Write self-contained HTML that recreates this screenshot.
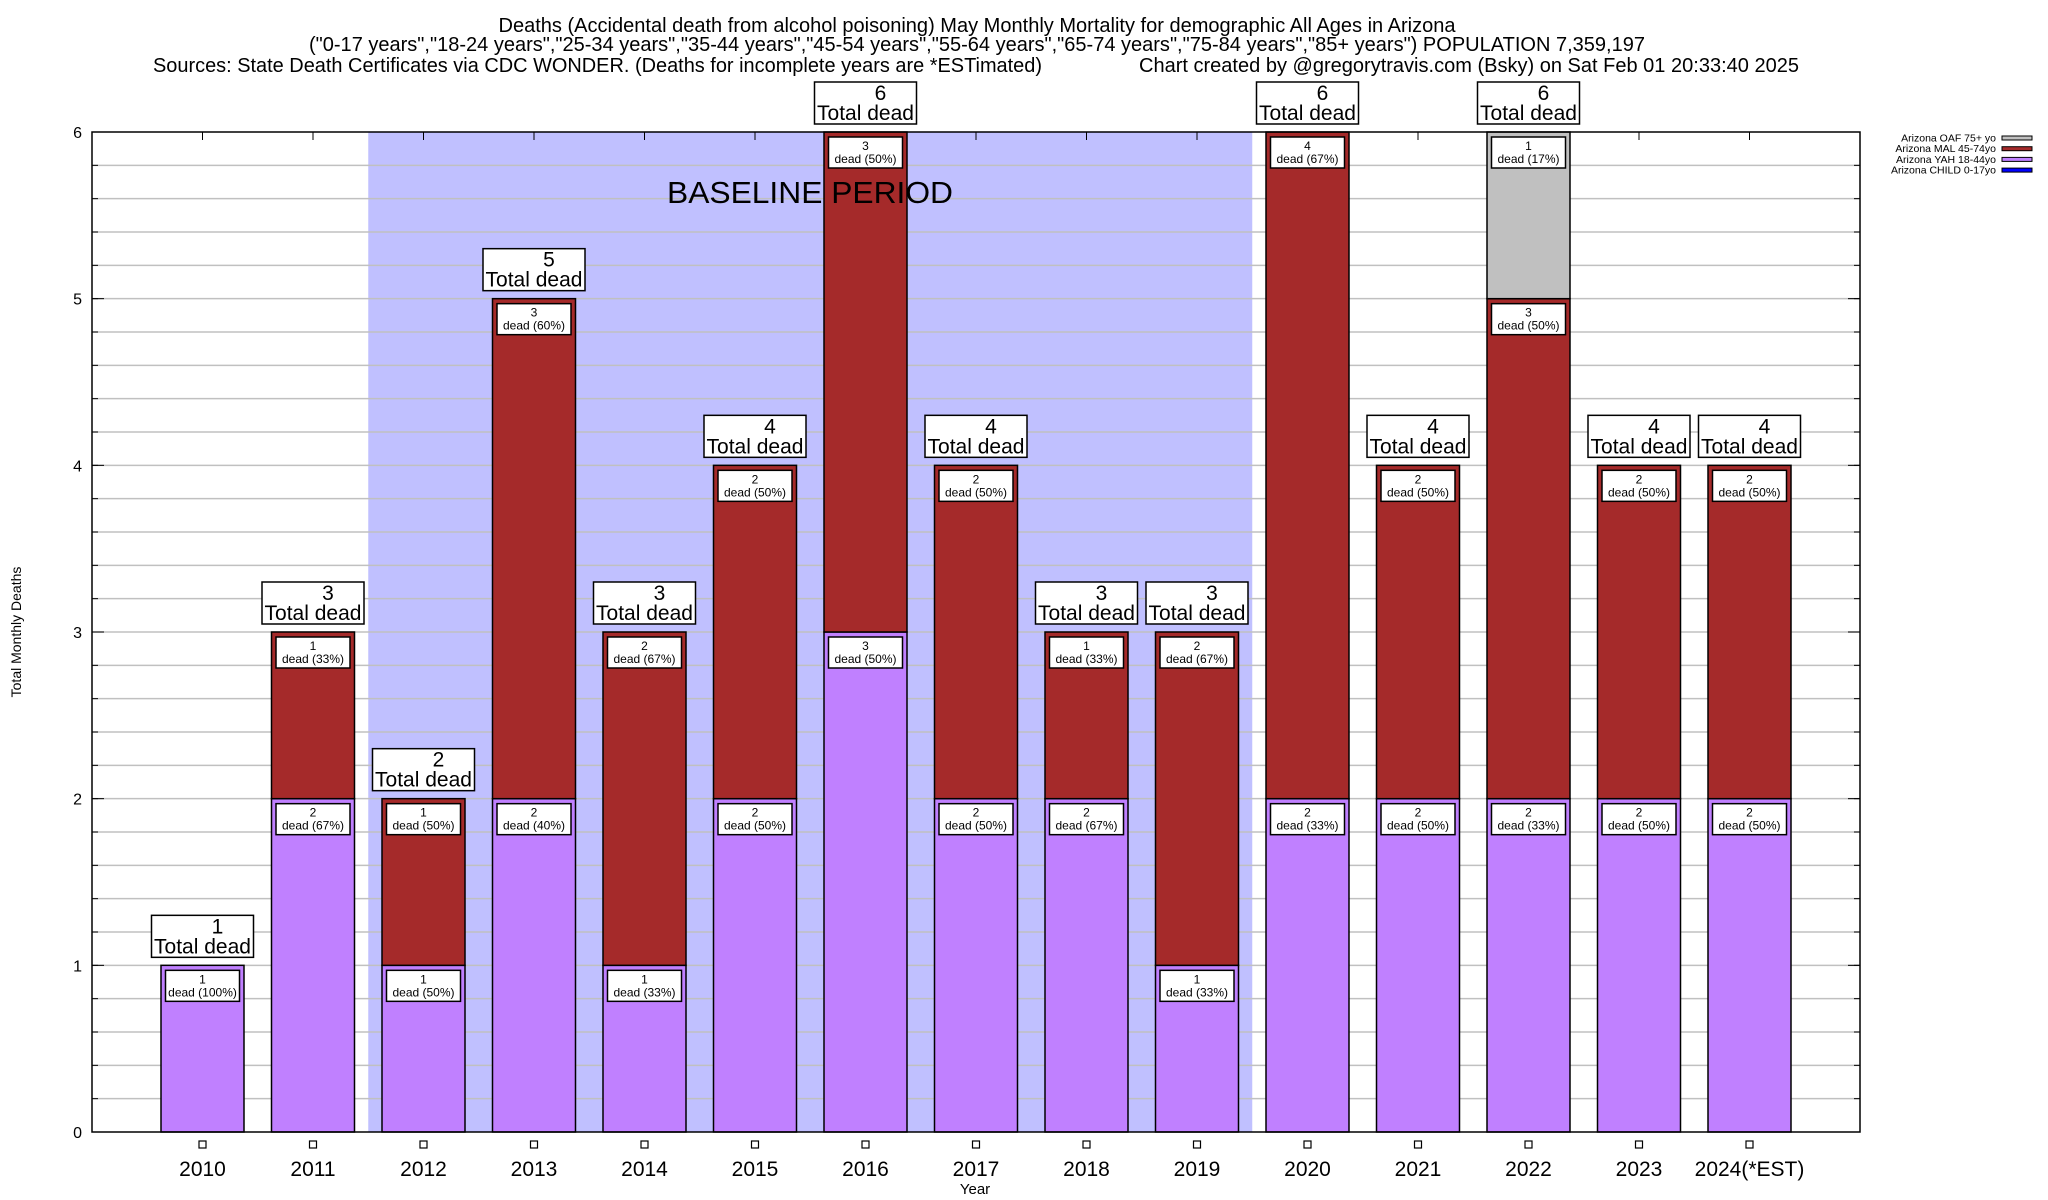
<!DOCTYPE html>
<html><head><meta charset="utf-8"><style>
body{margin:0;background:#fff;}
svg{display:block;font-family:"Liberation Sans",sans-serif;}
</style></head><body>
<svg id="chart" width="2048" height="1200" viewBox="0 0 2048 1200" xmlns="http://www.w3.org/2000/svg">
<g font-size="20" fill="#000">
<text x="977" y="32" text-anchor="middle" textLength="957" lengthAdjust="spacingAndGlyphs">Deaths (Accidental death from alcohol poisoning) May Monthly Mortality for demographic All Ages in Arizona</text>
<text x="977" y="51" text-anchor="middle" textLength="1336" lengthAdjust="spacingAndGlyphs">("0-17 years","18-24 years","25-34 years","35-44 years","45-54 years","55-64 years","65-74 years","75-84 years","85+ years") POPULATION 7,359,197</text>
<text x="153" y="72" textLength="889" lengthAdjust="spacingAndGlyphs">Sources: State Death Certificates via CDC WONDER. (Deaths for incomplete years are *ESTimated)</text>
<text x="1139" y="72" textLength="660" lengthAdjust="spacingAndGlyphs">Chart created by @gregorytravis.com (Bsky) on Sat Feb 01 20:33:40 2025</text>
</g>
<g id="plot"></g>
</svg>
<script>
const years = ['2010','2011','2012','2013','2014','2015','2016','2017','2018','2019','2020','2021','2022','2023','2024(*EST)'];
const yah = [1,2,1,2,1,2,3,2,2,1,2,2,2,2,2];
const mal = [0,1,1,3,2,2,3,2,1,2,4,2,3,2,2];
const oaf = [0,0,0,0,0,0,0,0,0,0,0,0,1,0,0];
const child = [0,0,0,0,0,0,0,0,0,0,0,0,0,0,0];
const yTicks = [0,1,2,3,4,5,6];
const baseline = [2011.5, 2019.5];

const L=92,R=1860,T=132,B=1132;
const xMin=2009,xMax=2025,yMax=6;
const X=v=>L+(v-xMin)/(xMax-xMin)*(R-L);
const Y=v=>B-v/yMax*(B-T);
const NS='http://www.w3.org/2000/svg';
const g=document.getElementById('plot');
function mk(tag,attrs,parent){const e=document.createElementNS(NS,tag);for(const k in attrs)e.setAttribute(k,attrs[k]);(parent||g).appendChild(e);return e;}

const sh=mk('rect',{x:X(baseline[0]),y:T,width:X(baseline[1])-X(baseline[0]),height:B-T,fill:'#c0c0ff'});


for(let v=0.2;v<yMax-0.01;v+=0.2){
  const gl=mk('line',{x1:L,x2:R,y1:Y(v),y2:Y(v),stroke:'#c0c0c0','stroke-width':1.5});
  
  
  const t1=mk('line',{x1:L,x2:L+6,y1:Y(v),y2:Y(v),stroke:'#000'});
  
  
  const t2=mk('line',{x1:R-6,x2:R,y1:Y(v),y2:Y(v),stroke:'#000'});
  
  
}

yTicks.forEach(v=>{
  const t=mk('text',{x:L-10,y:Y(v)+6,'font-size':16,'text-anchor':'end'});
  t.textContent=v;
  
  
  const tk=mk('line',{x1:L,x2:L+12,y1:Y(v),y2:Y(v),stroke:'#000'});
  
  
  const tk2=mk('line',{x1:R-12,x2:R,y1:Y(v),y2:Y(v),stroke:'#000'});
  
  
});
const yt=mk('text',{x:0,y:0,'font-size':14,'text-anchor':'middle',transform:'translate(21,632) rotate(-90)'});
yt.textContent='Total Monthly Deaths';


const xt=mk('text',{x:975,y:1194,'font-size':15,'text-anchor':'middle'});
xt.textContent='Year';



const hw=41.5;
const series=[{d:yah,c:'#c080ff',n:'yah'},{d:mal,c:'#a52a2a',n:'mal'},{d:oaf,c:'#c0c0c0',n:'oaf'},{d:child,c:'#0000ff',n:'child'}];
years.forEach((yr,i)=>{
  const cx=X(2010+i);
  const tk=mk('line',{x1:cx,x2:cx,y1:T,y2:T+8,stroke:'#000'});
  
  
  const total=yah[i]+mal[i]+oaf[i]+child[i];
  let base=0;
  const labels=[];
  series.forEach(s=>{
    const v=s.d[i]; if(!v) return;
    const r=mk('rect',{x:cx-hw,y:Y(base+v),width:2*hw,height:Y(base)-Y(base+v),fill:s.c,stroke:'#000','stroke-width':1.5});
    
    
    labels.push([base+v,v]);
    base+=v;
  });
  labels.forEach(([top,v])=>{
    const y0=Y(top)+5;
    const b=mk('rect',{x:cx-37,y:y0,width:74,height:31,fill:'#fff',stroke:'#000','stroke-width':1.5});
    
    
    const t1=mk('text',{x:cx,y:y0+13,'font-size':12,'text-anchor':'middle'});
    t1.textContent=v;
    
    
    const t2=mk('text',{x:cx,y:y0+26,'font-size':12,'text-anchor':'middle'});
    t2.textContent='dead ('+Math.round(v/total*100)+'%)';
    
    
  });
  const by=Y(total)-8-42;
  const tb=mk('rect',{x:cx-51,y:by,width:102,height:42,fill:'#fff',stroke:'#000','stroke-width':1.5});
  
  
  const tn=mk('text',{x:cx+15,y:by+18,'font-size':21,'text-anchor':'middle'});
  tn.textContent=total;
  
  
  const td=mk('text',{x:cx,y:by+38,'font-size':21,'text-anchor':'middle'});
  td.textContent='Total dead';
  
  
  const m=mk('rect',{x:cx-3.5,y:1141,width:7,height:7,fill:'#fff',stroke:'#000','stroke-width':1.2});
  
  
  const xl=mk('text',{x:cx,y:1176,'font-size':21,'text-anchor':'middle'});
  xl.textContent=yr;
  
  
});
const bl=mk('text',{x:810,y:203,'font-size':31,'text-anchor':'middle',textLength:286,lengthAdjust:'spacingAndGlyphs'});
bl.textContent='BASELINE PERIOD';



const fr=mk('rect',{x:L,y:T,width:R-L,height:B-T,fill:'none',stroke:'#000','stroke-width':1.5});



const leg=[['Arizona OAF 75+ yo','#c0c0c0'],['Arizona MAL 45-74yo','#a52a2a'],['Arizona YAH 18-44yo','#c080ff'],['Arizona CHILD 0-17yo','#0000ff']];
leg.forEach((l,k)=>{
  const y=138+k*10.7;
  const t=mk('text',{x:1996,y:y+3.5,'font-size':10.5,'text-anchor':'end'});
  t.textContent=l[0];
  
  
  const r=mk('rect',{x:2002,y:y-2,width:30,height:4,fill:l[1],stroke:'#000','stroke-width':1});
  
  
});
</script>
</body></html>
